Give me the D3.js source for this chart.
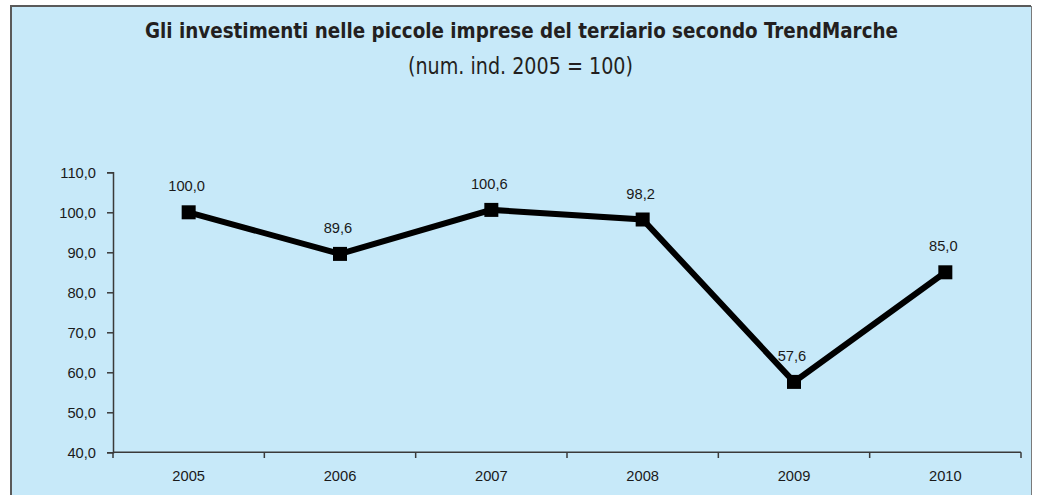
<!DOCTYPE html>
<html>
<head>
<meta charset="utf-8">
<script src="https://cdn.jsdelivr.net/npm/d3@7"></script>
<style>
  html, body { margin: 0; padding: 0; background: #ffffff; }
  svg { display: block; }
</style>
</head>
<body>
<script>
const years = ["2005", "2006", "2007", "2008", "2009", "2010"];
const values = [100.0, 89.6, 100.6, 98.2, 57.6, 85.0];
const yTicks = [40, 50, 60, 70, 80, 90, 100, 110];
const titleText = "Gli investimenti nelle piccole imprese del terziario secondo TrendMarche";
const subtitleText = "(num. ind. 2005 = 100)";

const W = 1038, H = 495;
const fmt = v => d3.format(".1f")(v).replace(".", ",");

const svg = d3.select("body").append("svg").attr("width", W).attr("height", H);

// panel background + frame
svg.append("rect").attr("x", 11).attr("y", 6).attr("width", 1020).attr("height", H - 6)
  .attr("fill", "#c7e9f9");
svg.append("path").attr("d", `M11,${H} L11,6 L1031,6`)
  .attr("fill", "none").attr("stroke", "#5a5a5a").attr("stroke-width", 2);
svg.append("line").attr("x1", 1031.5).attr("x2", 1031.5).attr("y1", 6).attr("y2", H)
  .attr("stroke", "#7a7a7a").attr("stroke-width", 1);

// titles
svg.append("text").attr("x", 521.5).attr("y", 37.5).attr("text-anchor", "middle")
  .attr("font-family", "'DejaVu Sans Condensed', 'DejaVu Sans', sans-serif")
  .attr("font-weight", "bold").attr("font-size", 21.5).attr("fill", "#231f20")
  .attr("textLength", 753).attr("lengthAdjust", "spacingAndGlyphs")
  .text(titleText);
svg.append("text").attr("x", 520.5).attr("y", 74).attr("text-anchor", "middle")
  .attr("font-family", "'DejaVu Sans Condensed', 'DejaVu Sans', sans-serif")
  .attr("font-size", 23).attr("fill", "#231f20")
  .attr("textLength", 225).attr("lengthAdjust", "spacingAndGlyphs")
  .text(subtitleText);

// scales
const x = d3.scaleBand().domain(years).range([113, 1021]).padding(0);
const y = d3.scaleLinear().domain([40, 110]).range([452.3, 172.3]);

const axisColor = "#3a3a3a";
const fontSize = 14.7;
const gy = svg.append("g").attr("transform", "translate(113,0)")
  .call(d3.axisLeft(y).tickValues(yTicks).tickFormat(fmt).tickSizeOuter(0).tickSize(6).tickPadding(11));
const gx = svg.append("g").attr("transform", "translate(0,452.3)")
  .call(d3.axisBottom(x).tickSize(0).tickPadding(18));

[gy, gx].forEach(g => {
  g.select(".domain").attr("stroke", axisColor).attr("stroke-width", 1.5);
  g.selectAll(".tick line").attr("stroke", axisColor).attr("stroke-width", 1.5);
  g.selectAll("text").attr("font-family", "'Liberation Sans', Arial, sans-serif")
    .attr("font-size", fontSize).attr("fill", "#1a1a1a");
});
gx.select(".domain").attr("d", "M113,0H1021");

// x tick marks at band boundaries
const bounds = years.map(d => x(d)).concat([x(years[years.length - 1]) + x.bandwidth()]);
svg.append("g").selectAll("line").data(bounds).join("line")
  .attr("x1", d => d).attr("x2", d => d)
  .attr("y1", 452.3).attr("y2", 458)
  .attr("stroke", axisColor).attr("stroke-width", 1.5);

// line
const cx = (d, i) => x(years[i]) + x.bandwidth() / 2;
const pts = values.map((v, i) => [cx(v, i), y(v)]);
svg.append("path").datum(pts)
  .attr("d", d3.line())
  .attr("fill", "none").attr("stroke", "#000").attr("stroke-width", 6)
  .attr("stroke-linejoin", "miter");

// markers
const ms = 14;
svg.append("g").selectAll("rect").data(values).join("rect")
  .attr("x", (d, i) => cx(d, i) - ms / 2)
  .attr("y", d => y(d) - ms / 2)
  .attr("width", ms).attr("height", ms).attr("fill", "#000");

// data labels
svg.append("g").selectAll("text").data(values).join("text")
  .attr("x", (d, i) => cx(d, i) - 2)
  .attr("y", d => y(d) - 21)
  .attr("text-anchor", "middle")
  .attr("font-family", "'Liberation Sans', Arial, sans-serif")
  .attr("font-size", fontSize).attr("fill", "#1a1a1a")
  .text(d => fmt(d));
</script>
</body>
</html>
